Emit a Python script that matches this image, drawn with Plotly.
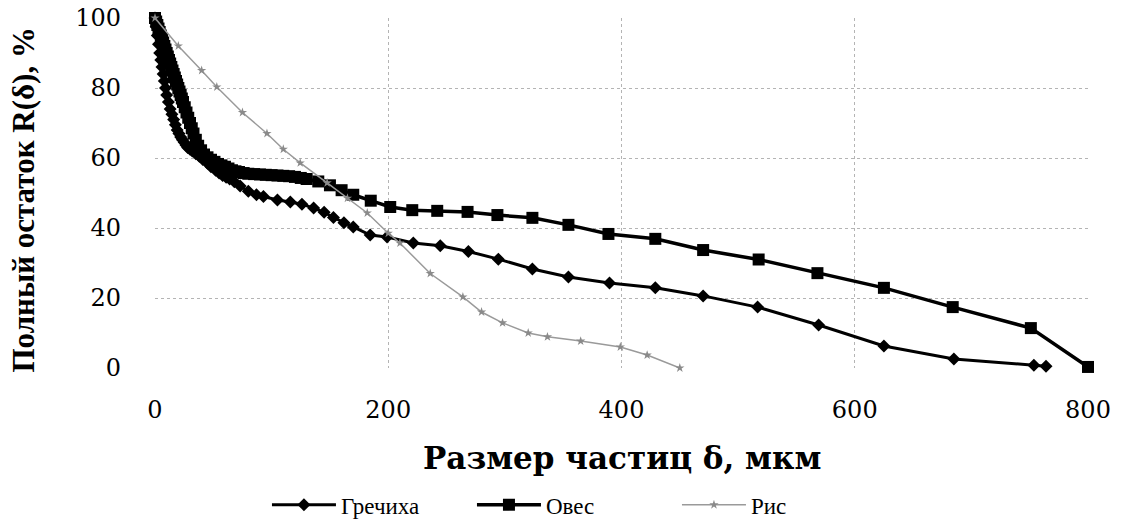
import plotly.graph_objects as go

# Гречиха (buckwheat)
grechikha_x = [0, 1, 2, 3, 4, 5, 6, 7, 8, 9, 10, 11.5, 13, 14.5, 16, 17.5, 19, 20.5, 22, 23.5, 25, 26.5, 28, 30, 32, 35, 38,
               41, 45, 48, 52, 55, 58, 61, 64, 68, 73, 80, 87, 93,
               105, 116, 126, 136, 145, 153, 162, 170, 184.5, 199, 221.5, 244.6, 268.7, 294.4,
               323.6, 354.5, 389.7, 429, 470, 516.7, 569, 625, 685, 753.6, 764]
grechikha_y = [100, 97.5, 95, 92.5, 90, 88, 86, 84, 82, 80, 78, 76, 74, 72.5, 71, 69.5, 68, 67, 66, 65.2, 64.5, 63.7, 63, 62.5, 62, 61.2, 60.5,
               59.6, 58.5, 57.5, 56.5, 55.7, 55, 54.5, 54, 53.2, 52, 50.5, 49.5, 49,
               48, 47.4, 46.8, 45.7, 44.5, 43, 41.5, 40.3, 38, 37.4, 35.7, 34.9, 33.3, 31.1,
               28.3, 26, 24.3, 22.9, 20.6, 17.4, 12.3, 6.3, 2.6, 0.8, 0.5]

# Овес (oats)
oves_x = [0, 1, 2, 3, 4, 5, 6, 7, 8, 9, 10, 11, 12, 13, 14, 15, 16, 17, 18, 19, 20, 21, 22, 23, 24, 25.5, 27, 28.5, 30,
          31.5, 33, 35, 37, 39.5, 42, 45, 48, 51, 54, 57, 60, 63, 66, 69, 72, 76, 80, 85, 90,
          95, 100, 105, 110, 115, 120, 125, 130, 140, 150, 160, 170, 185, 201.7, 220.6, 242, 268, 293.6, 323.6, 354.5,
          388.8, 429, 470, 517.6, 568, 625, 684, 751, 800]
oves_y = [100, 99, 98, 97, 96, 95, 94, 93, 92, 91, 90, 89, 88, 87, 86, 85, 84, 83, 82, 81, 80, 79, 78, 77, 76, 74.5, 73, 71.5, 70,
          68.5, 67, 65.2, 63.5, 62.2, 61, 60.2, 59.5, 58.9, 58.3, 57.9, 57.5, 57, 56.5, 56.2, 56, 55.7, 55.5, 55.4, 55.3,
          55.2, 55.1, 55, 54.9, 54.8, 54.6, 54.3, 54, 53.3, 52.2, 50.8, 49.5, 47.8, 46, 45.1, 44.9, 44.6, 43.7, 42.9, 40.9,
          38.3, 36.9, 33.7, 31, 27.1, 22.9, 17.4, 11.4, 0.3]

# Рис (rice)
ris_x = [0, 20, 40, 53, 75, 96, 110, 124.5, 147.6, 165, 182, 200, 210, 236, 264, 280, 298, 320,
         336.5, 365, 399, 422, 450]
ris_y = [100, 92, 85, 80.3, 73, 67, 62.5, 58.6, 52.9, 48.5, 44.3, 38.5, 35.7, 27, 20.3, 16, 12.9, 10,
         8.9, 7.7, 6, 3.7, 0]

x_ticks = [0, 200, 400, 600, 800]
y_ticks = [0, 20, 40, 60, 80, 100]

fig = go.Figure()
fig.add_trace(go.Scatter(x=grechikha_x, y=grechikha_y, name="Гречиха", mode="lines+markers",
                         line=dict(color="black", width=3),
                         marker=dict(symbol="diamond", size=10, color="black"),
                         cliponaxis=False))
fig.add_trace(go.Scatter(x=oves_x, y=oves_y, name="Овес", mode="lines+markers",
                         line=dict(color="black", width=3.5),
                         marker=dict(symbol="square", size=12, color="black"),
                         cliponaxis=False))
fig.add_trace(go.Scatter(x=ris_x, y=ris_y, name="Рис", mode="lines+markers",
                         line=dict(color="#9a9a9a", width=1.5),
                         marker=dict(symbol="star", size=7, color="#8a8a8a"),
                         cliponaxis=False))

grid = dict(showgrid=True, gridcolor="#b4b4b4", griddash="dot", gridwidth=1,
            zeroline=False, showline=False, ticks="", automargin=False)
fig.update_xaxes(range=[0, 800], tickvals=x_ticks, ticklabelstandoff=25,
                 tickfont=dict(family="DejaVu Serif", size=24, color="black"), **grid)
fig.update_yaxes(range=[0, 100], tickvals=y_ticks, ticklabelstandoff=33,
                 tickfont=dict(family="DejaVu Serif", size=24, color="black"), **grid)

fig.add_annotation(text="<b>Размер частиц δ, мкм</b>", xref="paper", yref="paper",
                   x=0.5, y=-0.257, showarrow=False, xanchor="center", yanchor="middle",
                   font=dict(family="DejaVu Serif", size=31, color="black"))
fig.add_annotation(text="<b>Полный остаток R(δ), %</b>", xref="paper", yref="paper",
                   x=-0.142, y=0.48, showarrow=False, textangle=-90, xanchor="center", yanchor="middle",
                   font=dict(family="Liberation Serif", size=31, color="black"))

fig.update_layout(
    width=1121, height=522,
    margin=dict(l=155, r=33, t=18, b=154),
    plot_bgcolor="white", paper_bgcolor="white",
    showlegend=True,
    legend=dict(orientation="h", x=0.12, xref="paper", y=0.033, yref="container",
                xanchor="left", yanchor="middle",
                font=dict(family="Liberation Serif", size=23, color="black"),
                itemwidth=64, entrywidth=126, entrywidthmode="pixels"),
)
fig.write_html("out.html", config={"displayModeBar": False},
               post_script="document.body.style.margin='0';")
